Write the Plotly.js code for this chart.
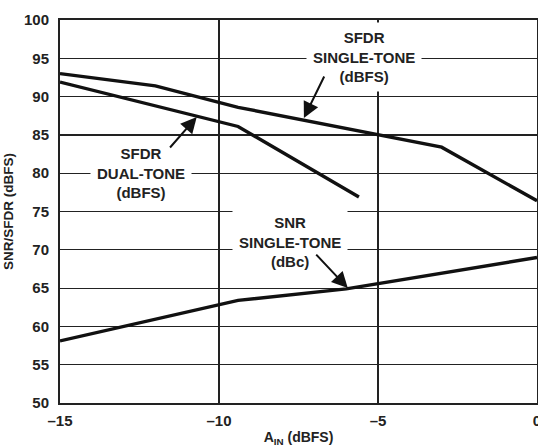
<!DOCTYPE html>
<html>
<head>
<meta charset="utf-8">
<script src="https://cdn.plot.ly/plotly-3.0.1.min.js"></script>
<style>html,body{margin:0;padding:0;background:#fff;}#chart{width:538px;height:447px;}</style>
</head>
<body>
<div id="chart"></div>
<script>
// Data
var sfdrSingleX = [-15, -12, -9.4, -5, -3, 0];
var sfdrSingleY = [93, 91.4, 88.6, 85, 83.4, 76.4];
var sfdrDualX = [-15, -9.4, -5.6];
var sfdrDualY = [91.9, 86.1, 76.9];
var snrX = [-15, -12, -9.4, -6, -3, 0];
var snrY = [58.1, 60.9, 63.4, 64.9, 67.0, 69.0];
var xTicks = [-15, -10, -5, 0];
var yTicks = [50, 55, 60, 65, 70, 75, 80, 85, 90, 95, 100];

var FONT = 'Arial, "Liberation Sans", Helvetica, sans-serif';
var lineStyle = {color: '#111', width: 3.4};

var traces = [
  {x: sfdrSingleX, y: sfdrSingleY, mode: 'lines', line: lineStyle, name: 'SFDR SINGLE-TONE'},
  {x: sfdrDualX, y: sfdrDualY, mode: 'lines', line: lineStyle, name: 'SFDR DUAL-TONE'},
  {x: snrX, y: snrY, mode: 'lines', line: lineStyle, name: 'SNR SINGLE-TONE'}
];

function label(txt, x, y) {
  return {text: txt, x: x, y: y, xref: 'x', yref: 'y', showarrow: false,
    bgcolor: '#fff', borderpad: 6, font: {family: FONT, size: 15, color: '#222', weight: 'bold'}};
}
function arrow(x, y, ax, ay) {
  return {text: '', x: x, y: y, xref: 'x', yref: 'y', ax: ax, ay: ay, showarrow: true,
    arrowhead: 2, arrowsize: 1.6, arrowwidth: 2, arrowcolor: '#111'};
}

var layout = {
  width: 538, height: 447,
  margin: {l: 60, r: 1, t: 20, b: 44},
  paper_bgcolor: '#fff', plot_bgcolor: '#fff',
  showlegend: false,
  font: {family: FONT, size: 15, color: '#222', weight: 'bold'},
  xaxis: {
    range: [-15, 0], tickvals: xTicks, ticktext: xTicks.map(function(v){return v < 0 ? '\u2013' + Math.abs(v) : String(v);}),
    showgrid: true, gridcolor: '#222', gridwidth: 1.2,
    showline: true, linecolor: '#222', linewidth: 2, mirror: true,
    zeroline: false, ticks: '', ticklabelstandoff: 3, ticklabeloverflow: 'allow',
    tickfont: {family: FONT, size: 15, color: '#222', weight: 'bold'},
    title: {text: 'A<sub>IN</sub> (dBFS)', standoff: 4, font: {family: FONT, size: 14, color: '#222', weight: 'bold'}}
  },
  yaxis: {
    range: [50, 100], tickvals: yTicks,
    showgrid: true, gridcolor: '#222', gridwidth: 1.2,
    showline: true, linecolor: '#222', linewidth: 2, mirror: true,
    zeroline: false, ticks: '', ticklabelstandoff: 6,
    tickfont: {family: FONT, size: 15, color: '#222', weight: 'bold'},
    title: {text: 'SNR/SFDR (dBFS)', standoff: 7, font: {family: FONT, size: 13.5, color: '#222', weight: 'bold'}}
  },
  annotations: [
    label('SFDR<br>SINGLE-TONE<br>(dBFS)', -5.45, 95.2),
    label('SFDR<br>DUAL-TONE<br>(dBFS)', -12.46, 80.06),
    label('SNR<br>SINGLE-TONE<br>(dBc)', -7.76, 71.0),
    arrow(-7.33, 87.2, 21, -43),
    arrow(-10.70, 87.34, -28, 32),
    arrow(-5.95, 65.0, -33, -35)
  ]
};

Plotly.newPlot('chart', traces, layout, {displayModeBar: false, staticPlot: true});
</script>
</body>
</html>
